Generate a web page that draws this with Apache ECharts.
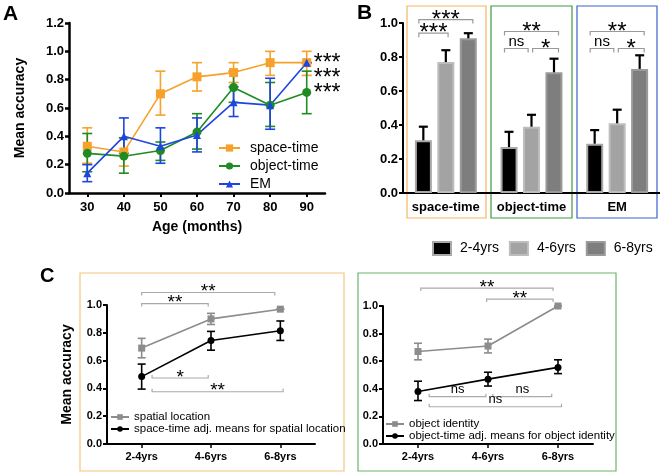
<!DOCTYPE html>
<html>
<head>
<meta charset="utf-8">
<script src="https://cdn.jsdelivr.net/npm/echarts@6/dist/echarts.min.js"></script>
<style>
  html, body { margin: 0; padding: 0; background: #fff; }
  #chart { width: 660px; height: 472px; }
</style>
</head>
<body>
<div id="chart"></div>
<script>
// ---- A: accuracy by age (months)
const monthsA = [30, 40, 50, 60, 70, 80, 90]
const spaceTime   = [0.33, 0.29, 0.70, 0.82, 0.85, 0.92, 0.92]
const spaceTimeLo = [0.21, 0.19, 0.55, 0.72, 0.78, 0.83, 0.83]
const spaceTimeHi = [0.46, 0.39, 0.86, 0.92, 0.92, 1.00, 1.00]
const objectTime   = [0.28, 0.26, 0.30, 0.43, 0.745, 0.62, 0.71]
const objectTimeLo = [0.15, 0.14, 0.23, 0.31, 0.64, 0.47, 0.56]
const objectTimeHi = [0.42, 0.39, 0.36, 0.56, 0.86, 0.78, 0.86]
const emA   = [0.14, 0.40, 0.33, 0.41, 0.64, 0.62, 0.92]
const emLo  = [0.08, 0.28, 0.21, 0.29, 0.54, 0.45, 0.92]
const emHi  = [0.20, 0.53, 0.46, 0.53, 0.75, 0.81, 0.92]
const starsA = [[0.945, '***'], [0.84, '***'], [0.735, '***']]

// ---- B: bars per task and age group
const taskCats = ['space-time', 'object-time', 'EM']
const ageGroups = ['2-4yrs', '4-6yrs', '6-8yrs']
const young   = [0.31, 0.27, 0.29]
const youngHi = [0.39, 0.36, 0.37]
const mid     = [0.77, 0.39, 0.41]
const midHi   = [0.84, 0.46, 0.49]
const old     = [0.91, 0.71, 0.73]
const oldHi   = [0.94, 0.79, 0.81]
// [task, fromBar, toBar, y, label]
const bracketsB = [
  [0, -0.2, 1.1, 0.94, '***'], [0, -0.2, 2.2, 1.02, '***'],
  [1, -0.2, 2.2, 0.95, '**'], [1, -0.2, 0.85, 0.85, 'ns'], [1, 1.05, 2.2, 0.85, '*'],
  [2, -0.2, 2.2, 0.95, '**'], [2, -0.2, 0.85, 0.85, 'ns'], [2, 1.05, 2.2, 0.85, '*']
]

// ---- C: adjusted means
const ageCats = ['2-4yrs', '4-6yrs', '6-8yrs']
const ageIdx = [0, 1, 2]
const spatialLoc   = [0.69, 0.90, 0.97]
const spatialLocLo = [0.62, 0.86, 0.97]
const spatialLocHi = [0.76, 0.94, 0.97]
const spaceAdj   = [0.485, 0.745, 0.815]
const spaceAdjLo = [0.395, 0.675, 0.745]
const spaceAdjHi = [0.575, 0.81, 0.885]
const objectId   = [0.67, 0.71, 1.00]
const objectIdLo = [0.61, 0.66, 1.00]
const objectIdHi = [0.73, 0.76, 1.00]
const objectAdj   = [0.38, 0.47, 0.555]
const objectAdjLo = [0.315, 0.42, 0.51]
const objectAdjHi = [0.455, 0.52, 0.61]
// [x1, x2, y, tickDir(1 down / -1 up), label]
const bracketsCL = [
  [0, 0.96, 1.01, 1, '**'], [0, 1.92, 1.09, 1, '**'],
  [0.15, 0.96, 0.475, -1, '*'], [0.15, 2.04, 0.376, -1, '**']
]
const bracketsCR = [
  [0.04, 1.93, 1.13, 1, '**'], [0.98, 1.93, 1.05, 1, '**'],
  [0.16, 0.97, 0.343, -1, 'ns'], [1.07, 1.91, 0.343, -1, 'ns'], [0.16, 2.05, 0.27, -1, 'ns']
]

const FONT = 'Liberation Sans, Arial, sans-serif'
const ORANGE = '#F7A12B', GREEN = '#1E8C22', BLUE = '#1F45E0'
const BAR_STEP = 22.5

function errSeries (xi, yi, xs, lo, hi, color, cap, lw) {
  return {
    type: 'custom', xAxisIndex: xi, yAxisIndex: yi, silent: true, clip: false, z: 1,
    data: xs.map((x, i) => [x, lo[i], hi[i]]),
    renderItem: function (params, api) {
      const t = api.coord([api.value(0), api.value(2)])
      const b = api.coord([api.value(0), api.value(1)])
      const st = { stroke: color, lineWidth: lw }
      return { type: 'group', children: [
        { type: 'line', shape: { x1: t[0], y1: t[1], x2: b[0], y2: b[1] }, style: st },
        { type: 'line', shape: { x1: t[0] - cap, y1: t[1], x2: t[0] + cap, y2: t[1] }, style: st },
        { type: 'line', shape: { x1: b[0] - cap, y1: b[1], x2: b[0] + cap, y2: b[1] }, style: st }
      ] }
    }
  }
}

// stars sit high in the em box, so they get their own size and offset
function bracketText (label, x, y, size, starSize) {
  const isStar = label.indexOf('*') !== -1
  const fs = isStar ? starSize : size
  return {
    type: 'text', x: x, y: isStar ? y - 5 + 0.23 * fs : y - 7,
    style: { text: label, fill: '#000', font: fs + 'px ' + FONT, align: 'center', verticalAlign: 'middle' }
  }
}

function bracketSeries (xi, yi, list, size, starSize) {
  return {
    type: 'custom', xAxisIndex: xi, yAxisIndex: yi, silent: true, clip: false, z: 5,
    data: list.map(b => [b[0], b[1], b[2], b[3]]),
    renderItem: function (params, api) {
      const p1 = api.coord([api.value(0), api.value(2)])
      const p2 = api.coord([api.value(1), api.value(2)])
      const d = api.value(3) * 3
      const label = list[params.dataIndex][4]
      return { type: 'group', children: [
        { type: 'polyline', shape: { points: [[p1[0], p1[1] + d], p1, p2, [p2[0], p2[1] + d]] }, style: { stroke: '#aaa', lineWidth: 1.2, fill: null } },
        bracketText(label, (p1[0] + p2[0]) / 2, p1[1], size, starSize)
      ] }
    }
  }
}

const axisLbl = (size) => ({ color: '#000', fontWeight: 'bold', fontSize: size, fontFamily: FONT })
const yAxisBase = (gi, size, max, lw, name) => ({
  type: 'value', gridIndex: gi, min: 0, max: max, interval: 0.2,
  name: name || '', nameLocation: 'middle', nameGap: gi === 0 ? 42 : 33,
  nameTextStyle: { color: '#000', fontWeight: 'bold', fontSize: 14, fontFamily: FONT },
  axisLine: { show: true, onZero: false, lineStyle: { color: '#000', width: lw } },
  axisTick: { show: true, length: 4, lineStyle: { color: '#000', width: lw } },
  axisLabel: Object.assign(axisLbl(size), { margin: 5, formatter: v => v.toFixed(1) }),
  splitLine: { show: false }
})
const ageXAxis = (gi) => ({
  type: 'value', gridIndex: gi, min: -0.5, max: 2.5,
  axisLine: { onZero: false, lineStyle: { color: '#000', width: 2 } },
  axisTick: { length: 4, customValues: ageIdx, lineStyle: { color: '#000', width: 1.5 } },
  axisLabel: Object.assign(axisLbl(11), { customValues: ageIdx, margin: 7, formatter: v => ageCats[Math.round(v)] }),
  splitLine: { show: false }
})
const panelTitle = (t, x, y, size) => ({ text: t, left: x, top: y, padding: 0,
  textStyle: { fontSize: size, fontWeight: 'bold', color: '#000' } })

const chart = echarts.init(document.getElementById('chart'))

const option = {
  animation: false,
  textStyle: { fontFamily: FONT },
  title: [
    panelTitle('A', 3, 4, 21),
    panelTitle('B', 357, 3, 21),
    panelTitle('C', 40, 266, 20)
  ],
  graphic: [
    { type: 'rect', shape: { x: 407, y: 6, width: 79, height: 212 }, style: { fill: null, stroke: '#F5B45E', lineWidth: 1.2 } },
    { type: 'rect', shape: { x: 491, y: 6, width: 81, height: 212 }, style: { fill: null, stroke: '#3E9A3E', lineWidth: 1.2 } },
    { type: 'rect', shape: { x: 577, y: 6, width: 80, height: 212 }, style: { fill: null, stroke: '#3A62D0', lineWidth: 1.2 } },
    { type: 'rect', shape: { x: 80, y: 273, width: 264, height: 198 }, style: { fill: null, stroke: '#F5C37E', lineWidth: 1.2 } },
    { type: 'rect', shape: { x: 358, y: 273, width: 258, height: 198 }, style: { fill: null, stroke: '#6BB56B', lineWidth: 1.2 } }
  ],
  legend: [
    { data: ['space-time', 'object-time', 'EM'], orient: 'vertical', left: 218, top: 141, padding: 0,
      itemWidth: 21, itemHeight: 9, itemGap: 4,
      textStyle: { fontSize: 14, color: '#000', padding: [0, 0, 0, 5] } },
    { data: ageGroups, left: 432, top: 241, padding: 0, icon: 'rect', itemWidth: 18, itemHeight: 13, itemGap: 10,
      textStyle: { fontSize: 14, color: '#000', padding: [0, 0, 0, 4] } },
    { data: ['spatial location', 'space-time adj. means for spatial location'], orient: 'vertical', left: 110, top: 411,
      padding: 0, itemWidth: 18, itemHeight: 7, itemGap: 0, textStyle: { fontSize: 11.5, color: '#000' } },
    { data: ['object identity', 'object-time adj. means for object identity'], orient: 'vertical', left: 385, top: 418,
      padding: 0, itemWidth: 18, itemHeight: 7, itemGap: 0, textStyle: { fontSize: 11.5, color: '#000' } }
  ],
  grid: [
    { left: 69, right: 335, top: 23, bottom: 279 },
    { left: 403, right: 0, top: 23, bottom: 279 },
    { left: 107, right: 345, top: 305, bottom: 28 },
    { left: 383, right: 67, top: 306, bottom: 28 }
  ],
  xAxis: [
    { type: 'value', gridIndex: 0, min: 25, max: 95,
      name: 'Age (months)', nameLocation: 'middle', nameGap: 27,
      nameTextStyle: { color: '#000', fontWeight: 'bold', fontSize: 14, fontFamily: FONT },
      axisLine: { onZero: false, lineStyle: { color: '#000', width: 2.5 } },
      axisTick: { length: 4, customValues: monthsA, lineStyle: { color: '#000', width: 2 } },
      axisLabel: Object.assign(axisLbl(13), { customValues: monthsA, margin: 8 }),
      splitLine: { show: false } },
    { type: 'category', gridIndex: 1, data: taskCats,
      axisLine: { onZero: false, lineStyle: { color: '#000', width: 2 } },
      axisTick: { alignWithLabel: true, length: 4, lineStyle: { color: '#000', width: 2 } },
      axisLabel: Object.assign(axisLbl(13), { margin: 8, interval: 0 }) },
    ageXAxis(2),
    ageXAxis(3)
  ],
  yAxis: [
    yAxisBase(0, 13, 1.2, 2.5, 'Mean accuracy'),
    yAxisBase(1, 13, 1.0, 2),
    yAxisBase(2, 11, 1.0, 2, 'Mean accuracy'),
    yAxisBase(3, 11, 1.0, 2)
  ],
  series: [
    // A
    errSeries(0, 0, monthsA, spaceTimeLo, spaceTimeHi, ORANGE, 5, 1.6),
    errSeries(0, 0, monthsA, objectTimeLo, objectTimeHi, GREEN, 5, 1.6),
    errSeries(0, 0, monthsA, emLo, emHi, BLUE, 5, 1.6),
    { name: 'space-time', type: 'line', xAxisIndex: 0, yAxisIndex: 0, z: 3,
      data: monthsA.map((m, i) => [m, spaceTime[i]]), symbol: 'rect', symbolSize: 9,
      itemStyle: { color: ORANGE }, lineStyle: { color: ORANGE, width: 1.6 } },
    { name: 'object-time', type: 'line', xAxisIndex: 0, yAxisIndex: 0, z: 3,
      data: monthsA.map((m, i) => [m, objectTime[i]]), symbol: 'circle', symbolSize: 9,
      itemStyle: { color: GREEN }, lineStyle: { color: GREEN, width: 1.6 } },
    { name: 'EM', type: 'line', xAxisIndex: 0, yAxisIndex: 0, z: 3,
      data: monthsA.map((m, i) => [m, emA[i]]), symbol: 'triangle', symbolSize: 8,
      itemStyle: { color: BLUE }, lineStyle: { color: BLUE, width: 1.6 } },
    { type: 'custom', xAxisIndex: 0, yAxisIndex: 0, silent: true, clip: false,
      data: starsA.map(s => [90, s[0]]),
      renderItem: function (params, api) {
        const p = api.coord([api.value(0), api.value(1)])
        return { type: 'text', x: p[0] + 7, y: p[1] + 5,
          style: { text: starsA[params.dataIndex][1], fill: '#000', font: '23px ' + FONT, verticalAlign: 'middle' } }
      } },
    // B
    { name: '2-4yrs', type: 'bar', xAxisIndex: 1, yAxisIndex: 1, data: young, barWidth: 17, barGap: '32%',
      itemStyle: { color: '#000', borderColor: '#a8a8a8', borderWidth: 2 } },
    { name: '4-6yrs', type: 'bar', xAxisIndex: 1, yAxisIndex: 1, data: mid, barWidth: 17, barGap: '32%',
      itemStyle: { color: '#a3a3a3', borderColor: '#bdbdbd', borderWidth: 2 } },
    { name: '6-8yrs', type: 'bar', xAxisIndex: 1, yAxisIndex: 1, data: old, barWidth: 17, barGap: '32%',
      itemStyle: { color: '#7e7e7e', borderColor: '#9a9a9a', borderWidth: 2 } },
    { type: 'custom', xAxisIndex: 1, yAxisIndex: 1, silent: true, clip: false, z: 4,
      data: [young, mid, old].flatMap((arr, g) => arr.map((v, c) => [c, v, [youngHi, midHi, oldHi][g][c], g])),
      renderItem: function (params, api) {
        const off = (api.value(3) - 1) * BAR_STEP
        const b = api.coord([api.value(0), api.value(1)])
        const t = api.coord([api.value(0), api.value(2)])
        const st = { stroke: '#000', lineWidth: 2.2 }
        return { type: 'group', children: [
          { type: 'line', shape: { x1: b[0] + off, y1: b[1], x2: t[0] + off, y2: t[1] }, style: st },
          { type: 'line', shape: { x1: t[0] + off - 4.5, y1: t[1], x2: t[0] + off + 4.5, y2: t[1] }, style: st }
        ] }
      } },
    { type: 'custom', xAxisIndex: 1, yAxisIndex: 1, silent: true, clip: false, z: 5,
      data: bracketsB.map(b => [b[0], b[1], b[2], b[3]]),
      renderItem: function (params, api) {
        const c = api.coord([api.value(0), api.value(3)])
        const x1 = c[0] + (api.value(1) - 1) * BAR_STEP
        const x2 = c[0] + (api.value(2) - 1) * BAR_STEP
        const y = c[1]
        return { type: 'group', children: [
          { type: 'polyline', shape: { points: [[x1, y + 4], [x1, y], [x2, y], [x2, y + 4]] }, style: { stroke: '#999', lineWidth: 1.2, fill: null } },
          bracketText(bracketsB[params.dataIndex][4], (x1 + x2) / 2, y, 15, 24)
        ] }
      } },
    // C left
    errSeries(2, 2, ageIdx, spatialLocLo, spatialLocHi, '#8c8c8c', 4, 1.6),
    errSeries(2, 2, ageIdx, spaceAdjLo, spaceAdjHi, '#000', 4, 1.6),
    { name: 'spatial location', type: 'line', xAxisIndex: 2, yAxisIndex: 2, z: 3,
      data: ageIdx.map(i => [i, spatialLoc[i]]), symbol: 'rect', symbolSize: 7,
      itemStyle: { color: '#8c8c8c' }, lineStyle: { color: '#8c8c8c', width: 1.6 } },
    { name: 'space-time adj. means for spatial location', type: 'line', xAxisIndex: 2, yAxisIndex: 2, z: 3,
      data: ageIdx.map(i => [i, spaceAdj[i]]), symbol: 'circle', symbolSize: 7,
      itemStyle: { color: '#000' }, lineStyle: { color: '#000', width: 1.6 } },
    bracketSeries(2, 2, bracketsCL, 13, 19),
    // C right
    errSeries(3, 3, ageIdx, objectIdLo, objectIdHi, '#8c8c8c', 4, 1.6),
    errSeries(3, 3, ageIdx, objectAdjLo, objectAdjHi, '#000', 4, 1.6),
    { name: 'object identity', type: 'line', xAxisIndex: 3, yAxisIndex: 3, z: 3,
      data: ageIdx.map(i => [i, objectId[i]]), symbol: 'rect', symbolSize: 7,
      itemStyle: { color: '#8c8c8c' }, lineStyle: { color: '#8c8c8c', width: 1.6 } },
    { name: 'object-time adj. means for object identity', type: 'line', xAxisIndex: 3, yAxisIndex: 3, z: 3,
      data: ageIdx.map(i => [i, objectAdj[i]]), symbol: 'circle', symbolSize: 7,
      itemStyle: { color: '#000' }, lineStyle: { color: '#000', width: 1.6 } },
    bracketSeries(3, 3, bracketsCR, 13, 19)
  ]
}

chart.setOption(option)
</script>
</body>
</html>
